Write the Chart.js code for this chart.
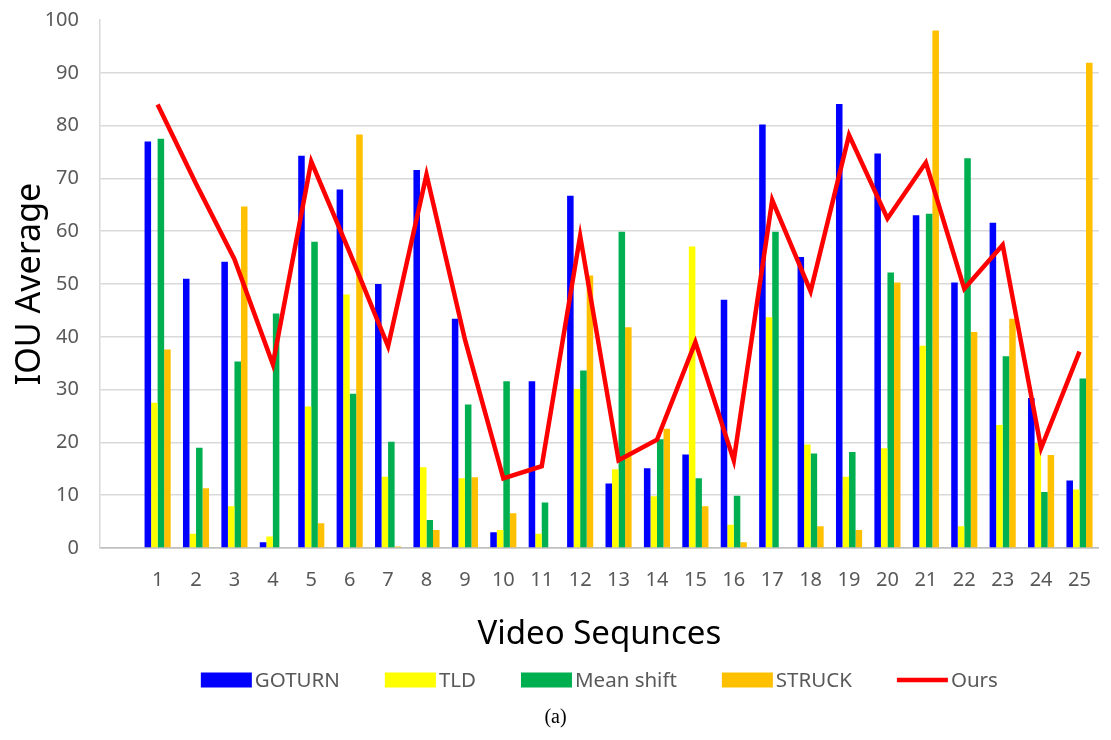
<!DOCTYPE html>
<html>
<head>
<meta charset="utf-8">
<title>IOU Average per video sequence</title>
<script src="https://cdn.jsdelivr.net/npm/chart.js@4.4.1/dist/chart.umd.min.js"></script>
<style>
  html, body { margin: 0; padding: 0; background: #ffffff; }
  #wrap { position: relative; width: 1111px; height: 740px; }
  canvas { display: block; }
  #caption {
    position: absolute; left: 0; top: 705px; width: 1111px;
    text-align: center; font-family: "Liberation Serif", "DejaVu Serif", serif;
    font-size: 20px; color: #000;
  }
</style>
</head>
<body>
<div id="wrap">
  <canvas id="chart" width="1111" height="740"></canvas>
  <div id="caption">(a)</div>
</div>
<script>
// Sequence labels on the x axis
const sequences = ['1','2','3','4','5','6','7','8','9','10','11','12','13','14','15','16','17','18','19','20','21','22','23','24','25'];

// Average IOU per sequence for each tracker
const goturn    = [77, 51, 54.2, 1.1, 74.3, 67.9, 50, 71.6, 43.4, 3, 31.6, 66.7, 12.2, 15.1, 17.7, 47, 80.2, 55.1, 84.1, 74.7, 63, 50.3, 61.6, 28.4, 12.8];
const tld       = [27.5, 2.7, 7.9, 2.2, 26.8, 48, 13.5, 15.3, 13.2, 3.4, 2.7, 30.1, 14.9, 9.8, 57.1, 4.4, 43.7, 19.6, 13.5, 18.9, 38.3, 4.1, 23.3, 19.9, 11.1];
const meanShift = [77.5, 19, 35.3, 44.4, 58, 29.2, 20.1, 5.3, 27.2, 31.6, 8.6, 33.6, 59.9, 20.6, 13.2, 9.9, 59.9, 17.9, 18.2, 52.2, 63.3, 73.8, 36.3, 10.6, 32.1];
const struck    = [37.6, 11.3, 64.7, 0, 4.7, 78.3, 0.3, 3.4, 13.4, 6.6, 0, 51.6, 41.8, 22.6, 7.9, 1.1, 0, 4.1, 3.4, 50.3, 98, 40.9, 43.4, 17.6, 91.9];
const ours      = [84, 69, 54.7, 34.8, 73.2, 56, 38.2, 70.7, 39.5, 13.2, 15.5, 59.1, 16.6, 20.5, 39, 16.6, 65.9, 48.6, 78.2, 62.4, 73, 49.1, 57.4, 18.9, 37.2];

// Y axis ticks
const yTicks = [0, 10, 20, 30, 40, 50, 60, 70, 80, 90, 100];

const FONT = '"Noto Sans", "Open Sans", sans-serif';

// The axis starts with one blank slot before sequence 1
const labels = [''].concat(sequences);
const pad = arr => [null].concat(arr);

// Legend drawn below the axis title: colour swatch, label, spacing
const seriesKey = {
  id: 'seriesKey',
  afterDraw(chart) {
    const ctx = chart.ctx;
    const items = chart.data.datasets.map(ds => ({
      text: ds.label,
      color: ds.type === 'line' ? ds.borderColor : ds.backgroundColor,
      line: ds.type === 'line'
    }));
    const boxW = 51, boxH = 15, gap = 3, spacing = 45, y = 680;
    ctx.save();
    ctx.font = '20.5px ' + FONT;
    ctx.textBaseline = 'middle';
    ctx.textAlign = 'left';
    let total = 0;
    items.forEach((it, i) => { total += boxW + gap + ctx.measureText(it.text).width + (i ? spacing : 0); });
    let x = (chart.chartArea.left + chart.chartArea.right) / 2 - total / 2;
    items.forEach(it => {
      if (it.line) {
        ctx.strokeStyle = it.color;
        ctx.lineWidth = 4.5;
        ctx.beginPath();
        ctx.moveTo(x, y);
        ctx.lineTo(x + boxW, y);
        ctx.stroke();
      } else {
        ctx.fillStyle = it.color;
        ctx.fillRect(x, y - boxH / 2, boxW, boxH);
      }
      x += boxW + gap;
      ctx.fillStyle = '#595959';
      ctx.fillText(it.text, x, y + 1);
      x += ctx.measureText(it.text).width + spacing;
    });
    ctx.restore();
  }
};

new Chart(document.getElementById('chart'), {
  data: {
    labels: labels,
    datasets: [
      { type: 'bar', label: 'GOTURN',     data: pad(goturn),    backgroundColor: '#0000ff', order: 1 },
      { type: 'bar', label: 'TLD',        data: pad(tld),       backgroundColor: '#ffff00', order: 1 },
      { type: 'bar', label: 'Mean shift', data: pad(meanShift), backgroundColor: '#00b050', order: 1 },
      { type: 'bar', label: 'STRUCK',     data: pad(struck),    backgroundColor: '#ffc000', order: 1 },
      { type: 'line', label: 'Ours',      data: pad(ours),      borderColor: '#ff0000', backgroundColor: '#ff0000',
        borderWidth: 4.5, pointRadius: 0, tension: 0, fill: false, order: 0 }
    ]
  },
  options: {
    responsive: false,
    animation: false,
    datasets: { bar: { barPercentage: 1.0, categoryPercentage: 0.68 } },
    layout: { padding: { left: 0, right: 3, top: 20, bottom: 0 } },
    plugins: {
      legend: { display: false },
      tooltip: { enabled: false }
    },
    scales: {
      x: {
        grid: { display: false, drawTicks: false },
        border: { display: true, color: '#bfbfbf', width: 1.5 },
        ticks: { color: '#595959', font: { family: FONT, size: 20 }, padding: 20, autoSkip: false, maxRotation: 0 },
        title: { display: true, text: 'Video Sequnces', color: '#000', font: { family: FONT, size: 33 }, padding: { top: 0, bottom: 86 } },
        afterFit(scale) { scale.height = 192; }
      },
      y: {
        min: 0, max: 100,
        afterBuildTicks(scale) { scale.ticks = yTicks.map(v => ({ value: v })); },
        grid: {
          drawTicks: true,
          tickLength: 19,
          tickColor: 'rgba(0,0,0,0)',
          color: c => (c.tick && c.tick.value === 100) ? 'rgba(0,0,0,0)' : (c.tick && c.tick.value === 0 ? '#bfbfbf' : '#d9d9d9'),
          lineWidth: 1.5
        },
        border: { display: true, color: '#d9d9d9', width: 1.5 },
        ticks: { color: '#595959', font: { family: FONT, size: 20 }, padding: 2 },
        title: { display: true, text: 'IOU Average', color: '#000', font: { family: FONT, size: 34 }, padding: { top: 10, bottom: 0 } },
        afterFit(scale) { scale.width = 100; }
      }
    }
  },
  plugins: [seriesKey]
});
</script>
</body>
</html>
